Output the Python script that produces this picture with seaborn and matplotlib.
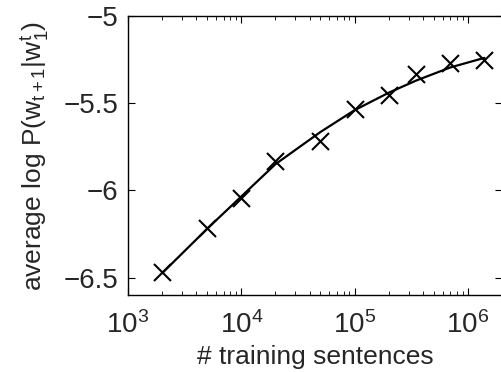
import matplotlib
matplotlib.use("Agg")
import matplotlib.pyplot as plt
import seaborn as sns
import numpy as np
import pandas as pd

sentences = [2e3, 5e3, 1e4, 2e4, 5e4, 1e5, 2e5, 3.5e5, 7e5, 1.4e6]
avg_logp = [-6.47, -6.215, -6.045, -5.83, -5.715, -5.535, -5.455, -5.335, -5.27, -5.25]
# smooth trend line drawn through the points
trend = [-6.475, -6.22, -6.035, -5.85, -5.665, -5.54, -5.44, -5.37, -5.295, -5.24]

sns.set_style("ticks")
plt.rcParams["font.family"] = ["Liberation Sans", "DejaVu Sans"]
plt.rcParams["mathtext.fontset"] = "custom"
plt.rcParams["mathtext.rm"] = "Liberation Sans"
plt.rcParams["mathtext.it"] = "Liberation Sans"
plt.rcParams["xtick.direction"] = "in"
plt.rcParams["ytick.direction"] = "in"

df = pd.DataFrame({"n": sentences, "logp": avg_logp, "trend": trend})

fig = plt.figure(figsize=(5.01, 3.72), dpi=100)
ax = fig.add_axes([128 / 501, 1 - 295 / 372, 374 / 501, 279 / 372])

sns.lineplot(data=df, x="n", y="trend", color="black", lw=1.6, ax=ax)
sns.scatterplot(data=df, x="n", y="logp", marker="x", color="black", s=150,
                linewidth=1.5, ax=ax)

ax.set_xscale("log")
ax.set_xlim(1e3, 2e6)
ax.set_ylim(-6.6, -5)
ax.set_yticks([-6.5, -6, -5.5, -5])
ax.set_yticklabels(["\u22126.5", "\u22126", "\u22125.5", "\u22125"])

for s in ax.spines.values():
    s.set_visible(True)
    s.set_color("black")
    s.set_linewidth(1.0)

ax.tick_params(which="both", top=True, right=True, labelsize=20, color="black")
ax.tick_params(axis="y", pad=7)
ax.tick_params(axis="x", pad=12)
ax.tick_params(which="major", length=5)
ax.tick_params(which="minor", length=3)

ax.set_xlabel("# training sentences", fontsize=19, labelpad=4)
ax.set_ylabel(r"average log P(w$_{t+1}$|w$_{1}^{t}$)", fontsize=19, labelpad=9)

fig.savefig("out.png", dpi=100)
